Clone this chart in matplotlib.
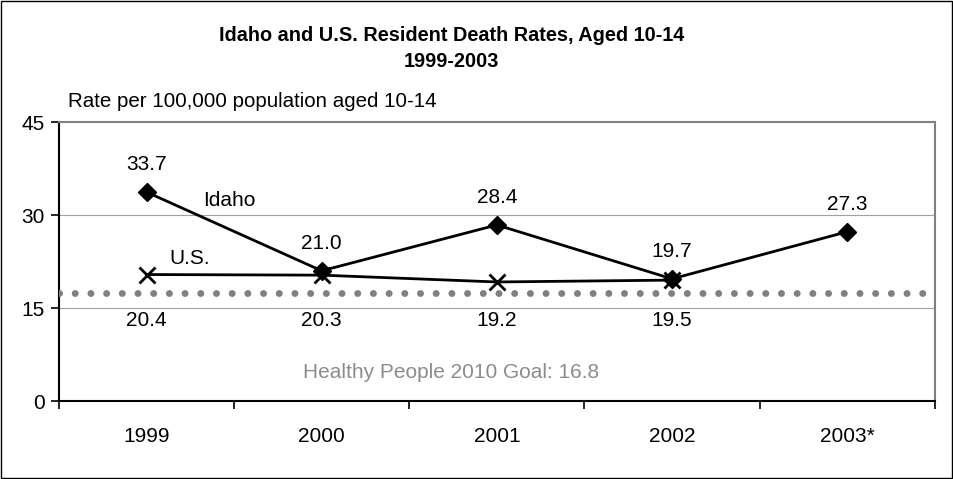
import matplotlib
matplotlib.use('Agg')
import matplotlib.pyplot as plt
from matplotlib.patches import Rectangle

plt.rcParams['font.family'] = ['Liberation Sans', 'DejaVu Sans']

years = ['1999', '2000', '2001', '2002', '2003*']
idaho = [33.7, 21.0, 28.4, 19.7, 27.3]
us = [20.4, 20.3, 19.2, 19.5]
goal_line = 17.5
yticks = [0, 15, 30, 45]

fs = 15

fig = plt.figure(figsize=(9.54, 4.79), dpi=100)
ax = fig.add_axes([0.0618, 0.1628, 0.918, 0.5825])

xs = list(range(len(years)))
ax.plot(xs[:len(us)], us, color='black', lw=2, marker='x', ms=11, mew=2, zorder=4)
ax.plot(xs, idaho, color='black', lw=2, marker='D', ms=9, zorder=5)
ax.axhline(goal_line, color='#808080', lw=5, ls=(0, (0.01, 2.25)),
           dash_capstyle='round', zorder=3)

# etiquetas de datos
for x, v in zip(xs, idaho):
    ax.annotate('{:.1f}'.format(v), (x, v), xytext=(0, 13), textcoords='offset points',
                ha='center', va='bottom', fontsize=fs)
for x, v in zip(xs, us):
    ax.annotate('{:.1f}'.format(v), (x, 13.0), ha='center', va='center', fontsize=fs)

ax.text(0.325, 32.4, 'Idaho', fontsize=fs, ha='left', va='center')
ax.text(0.13, 23.0, 'U.S.', fontsize=fs, ha='left', va='center')
ax.text(1.74, 4.6, 'Healthy People 2010 Goal: 16.8', fontsize=fs, color='#8c8c8c',
        ha='center', va='center')

ax.set_xlim(-0.5, len(years) - 0.5)
ax.set_ylim(0, 45)
ax.set_yticks(yticks)
ax.set_yticklabels([str(t) for t in yticks], fontsize=fs)
ax.set_xticks(xs)
ax.set_xticklabels(years, fontsize=fs)
ax.tick_params(axis='x', length=0, pad=19)
ax.set_xticks([i - 0.5 for i in range(len(years) + 1)], minor=True)
ax.tick_params(axis='x', which='minor', length=6, width=1.2, direction='out')
ax.tick_params(axis='y', length=6, width=1.2, direction='out', pad=4)
for t in [15, 30]:
    ax.axhline(t, color='#a0a0a0', lw=0.8, zorder=1)
ax.spines['left'].set_color('black')
ax.spines['bottom'].set_color('black')
ax.spines['left'].set_linewidth(1.5)
ax.spines['bottom'].set_linewidth(1.5)
for s in ['top', 'right']:
    ax.spines[s].set_color('#808080')
    ax.spines[s].set_linewidth(1.5)

fig.text(0.473, 0.898, 'Idaho and U.S. Resident Death Rates, Aged 10-14\n1999-2003',
         ha='center', va='center', fontsize=14.3, fontweight='bold', linespacing=1.45)
fig.text(0.071, 0.789, 'Rate per 100,000 population aged 10-14', ha='left', va='center',
         fontsize=14.8)

fig.patches.append(Rectangle((0.001, 0.002), 0.997, 0.996, transform=fig.transFigure,
                             fill=False, edgecolor='black', lw=1))

fig.savefig('out.png', dpi=100)
